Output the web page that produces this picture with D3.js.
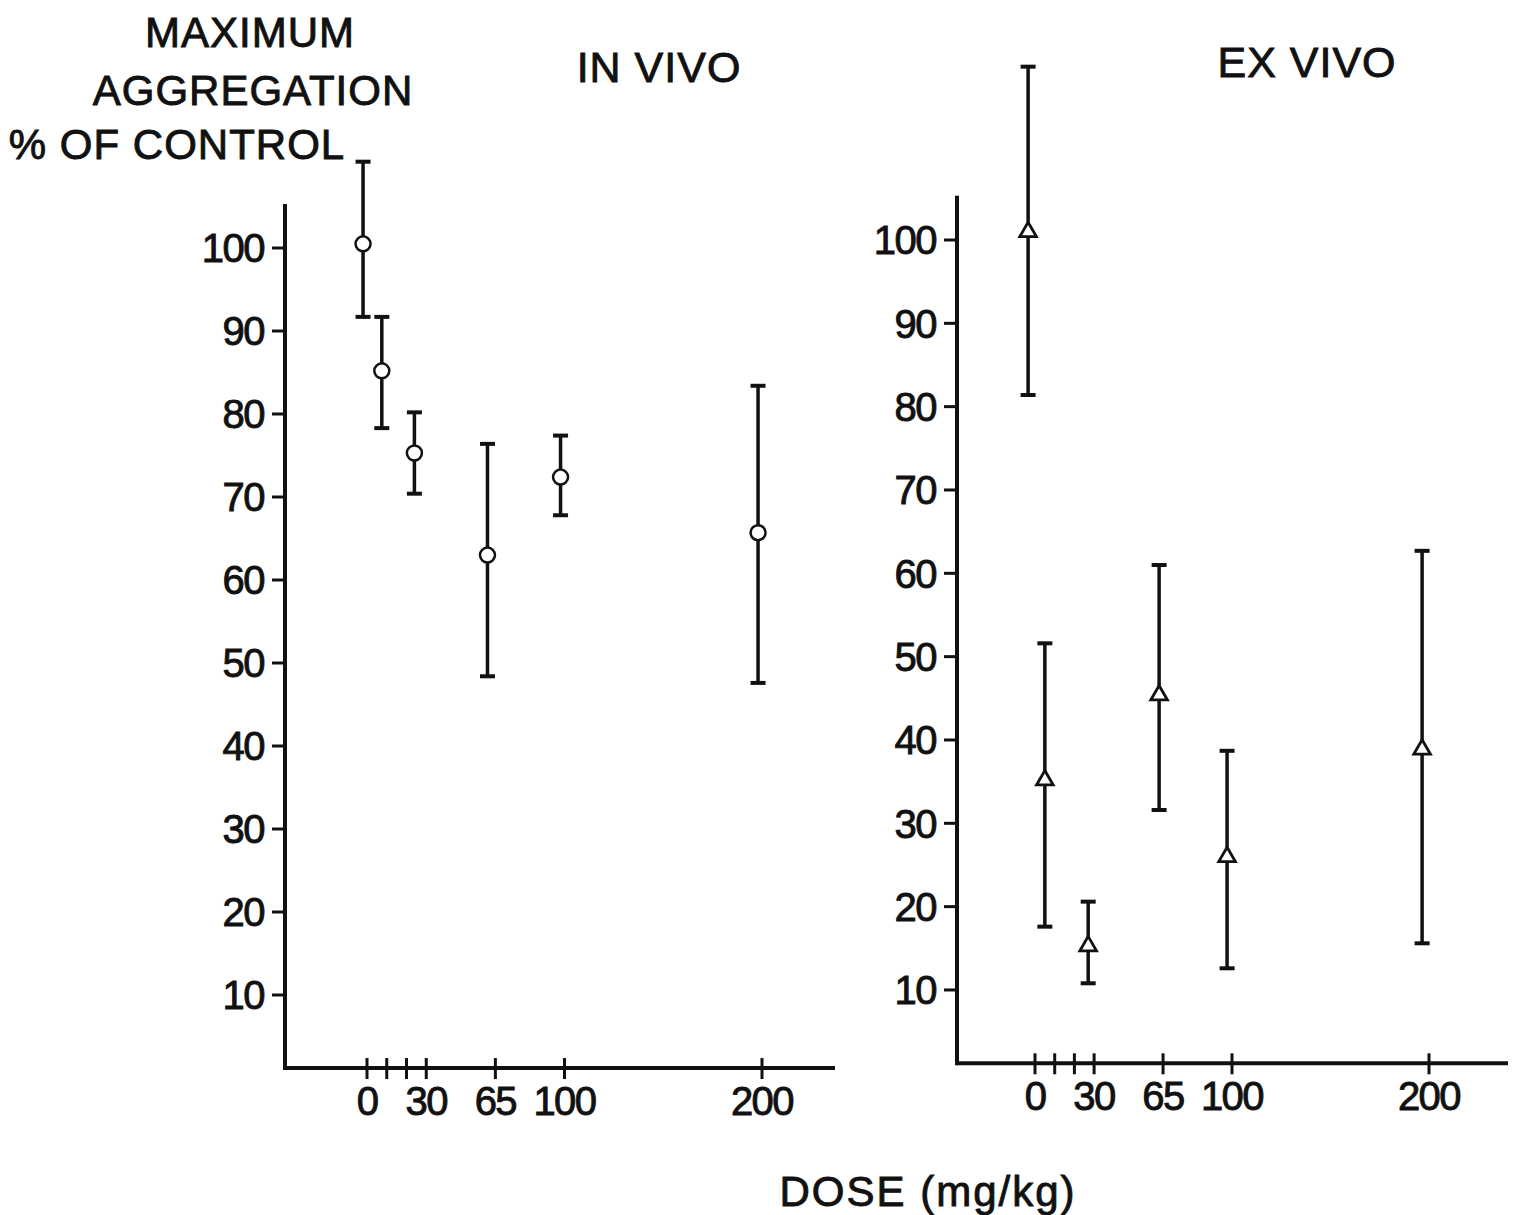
<!DOCTYPE html>
<html>
<head>
<meta charset="utf-8">
<script src="https://cdn.jsdelivr.net/npm/d3@7"></script>
<style>
  body { margin: 0; background: #fff; }
  svg text {
    font-family: "Liberation Sans", Arial, Helvetica, sans-serif;
    fill: #111;
    stroke: #111;
    stroke-width: 0.9px;
  }
</style>
</head>
<body>
<svg id="chart" width="1519" height="1215"></svg>
<script>
// dose tick labels (mg/kg); only some carry a number
const doseTicks = [0, 10, 20, 30, 65, 100, 200];
const doseLabels = ["0", "", "", "30", "65", "100", "200"];
const yTicks = [10, 20, 30, 40, 50, 60, 70, 80, 90, 100];

// IN VIVO (circles)
const inVivoDose = [-2, 7.5, 24, 61, 98, 198];
const inVivoMean = [100.5, 85.2, 75.3, 63.0, 72.4, 65.7];
const inVivoHigh = [110.4, 91.7, 80.2, 76.4, 77.4, 83.4];
const inVivoLow = [91.7, 78.3, 70.4, 48.4, 67.8, 47.6];

// EX VIVO (triangles)
const exVivoDose = [-3.5, 5, 27, 63, 97.5, 196.5];
const exVivoMean = [101.1, 35.3, 15.4, 45.5, 26.1, 39.0];
const exVivoHigh = [120.8, 51.6, 20.6, 61.0, 38.7, 62.7];
const exVivoLow = [81.4, 17.6, 10.8, 31.6, 12.6, 15.6];

const svg = d3.select("#chart");
const ink = "#111";

function drawPanel(opts) {
  const { dose, mean, high, low, marker, xRange, yRange, xLine, yAxisX, title, titleX, titleY } = opts;

  const x = d3.scaleLinear().domain([0, 200]).range(xRange);
  const y = d3.scaleLinear().domain([0, 100]).range(yRange);
  const g = svg.append("g");

  const axisY = y(1.2);

  // y axis
  g.append("line")
    .attr("x1", yAxisX).attr("x2", yAxisX)
    .attr("y1", y(105.3)).attr("y2", axisY + 2)
    .attr("stroke", ink).attr("stroke-width", 4);

  g.selectAll(".ytick")
    .data(yTicks)
    .join("line")
    .attr("x1", yAxisX - 13).attr("x2", yAxisX)
    .attr("y1", (d) => y(d)).attr("y2", (d) => y(d))
    .attr("stroke", ink).attr("stroke-width", 3);

  g.selectAll(".ylab")
    .data(yTicks)
    .join("text")
    .attr("x", yAxisX - 21)
    .attr("y", (d) => y(d))
    .attr("dy", "0.36em")
    .attr("text-anchor", "end")
    .style("font-size", "40px")
    .style("letter-spacing", "-1.5px")
    .text((d) => d);

  // x axis
  g.append("line")
    .attr("x1", yAxisX).attr("x2", xLine)
    .attr("y1", axisY).attr("y2", axisY)
    .attr("stroke", ink).attr("stroke-width", 4);

  g.selectAll(".xtick")
    .data(doseTicks)
    .join("line")
    .attr("x1", (d) => x(d)).attr("x2", (d) => x(d))
    .attr("y1", axisY - 10).attr("y2", axisY + 11)
    .attr("stroke", ink).attr("stroke-width", 3);

  g.selectAll(".xlab")
    .data(doseTicks)
    .join("text")
    .attr("x", (d) => x(d))
    .attr("y", axisY + 47)
    .attr("text-anchor", "middle")
    .style("font-size", "40px")
    .style("letter-spacing", "-1.5px")
    .text((d, i) => doseLabels[i]);

  // error bars
  const bars = g.selectAll(".bar").data(dose).join("g");
  bars.append("line")
    .attr("x1", (d) => x(d)).attr("x2", (d) => x(d))
    .attr("y1", (d, i) => y(high[i])).attr("y2", (d, i) => y(low[i]))
    .attr("stroke", ink).attr("stroke-width", 3.5);
  bars.append("line")
    .attr("x1", (d) => x(d) - 7.5).attr("x2", (d) => x(d) + 7.5)
    .attr("y1", (d, i) => y(high[i])).attr("y2", (d, i) => y(high[i]))
    .attr("stroke", ink).attr("stroke-width", 4);
  bars.append("line")
    .attr("x1", (d) => x(d) - 7.5).attr("x2", (d) => x(d) + 7.5)
    .attr("y1", (d, i) => y(low[i])).attr("y2", (d, i) => y(low[i]))
    .attr("stroke", ink).attr("stroke-width", 4);

  // markers
  if (marker === "circle") {
    g.selectAll(".pt")
      .data(dose)
      .join("circle")
      .attr("cx", (d) => x(d))
      .attr("cy", (d, i) => y(mean[i]))
      .attr("r", 7.5)
      .attr("fill", "#fff")
      .attr("stroke", ink)
      .attr("stroke-width", 2.5);
  } else {
    const tri = d3.symbol().type(d3.symbolTriangle).size(120);
    g.selectAll(".pt")
      .data(dose)
      .join("path")
      .attr("d", tri)
      .attr("transform", (d, i) => `translate(${x(d)},${y(mean[i]) + 1})`)
      .attr("fill", "#fff")
      .attr("stroke", ink)
      .attr("stroke-width", 2.8)
      .attr("stroke-linejoin", "miter");
  }

  svg.append("text")
    .attr("x", titleX).attr("y", titleY)
    .attr("text-anchor", "middle")
    .style("font-size", "43px")
    .style("letter-spacing", "1px")
    .text(title);
}

drawPanel({
  dose: inVivoDose, mean: inVivoMean, high: inVivoHigh, low: inVivoLow,
  marker: "circle",
  xRange: [367, 762], yRange: [1078, 248],
  xLine: 835, yAxisX: 285,
  title: "IN VIVO", titleX: 659, titleY: 82
});

drawPanel({
  dose: exVivoDose, mean: exVivoMean, high: exVivoHigh, low: exVivoLow,
  marker: "triangle",
  xRange: [1035, 1429], yRange: [1073.3, 240],
  xLine: 1508, yAxisX: 957,
  title: "EX VIVO", titleX: 1307, titleY: 77
});

// y axis title, three lines
const yTitle = [
  { t: "MAXIMUM", x: 250, y: 47 },
  { t: "AGGREGATION", x: 253, y: 105 },
  { t: "% OF CONTROL", x: 177, y: 159 }
];
svg.selectAll(".ytitle")
  .data(yTitle)
  .join("text")
  .attr("x", (d) => d.x)
  .attr("y", (d) => d.y)
  .attr("text-anchor", "middle")
  .style("font-size", "42px")
  .style("letter-spacing", "1px")
  .text((d) => d.t);

svg.append("text")
  .attr("x", 928).attr("y", 1206)
  .attr("text-anchor", "middle")
  .style("font-size", "42px")
  .style("letter-spacing", "2px")
  .text("DOSE (mg/kg)");
</script>
</body>
</html>
